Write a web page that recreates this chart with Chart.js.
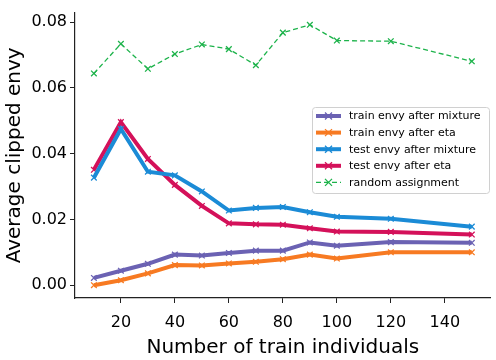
<!DOCTYPE html>
<html lang="en">
  <head>
    <meta charset="UTF-8" />
    <title>Average clipped envy</title>
    <script src="https://cdn.jsdelivr.net/npm/chart.js"></script>
    <style>
      body { margin: 0; background: #fff; }
      #wrap { width: 496px; height: 360px; }
    </style>
  </head>
  <body>
    <div id="wrap"><canvas id="myChart"></canvas></div>
    <script>
      // number of train individuals
      const trainSizes = [10, 20, 30, 40, 50, 60, 70, 80, 90, 100, 120, 150];

      const trainEnvyMixture = [0.0022, 0.0044, 0.0065, 0.0093, 0.0090, 0.0098, 0.0105, 0.0105, 0.0130, 0.0120, 0.0131, 0.0129];
      const trainEnvyEta = [0.0000, 0.0015, 0.0036, 0.0061, 0.0060, 0.0066, 0.0071, 0.0079, 0.0093, 0.0081, 0.0100, 0.0100];
      const testEnvyMixture = [0.0327, 0.0475, 0.0345, 0.0334, 0.0285, 0.0227, 0.0235, 0.0238, 0.0222, 0.0208, 0.0202, 0.0178];
      const testEnvyEta = [0.0351, 0.0496, 0.0384, 0.0305, 0.0241, 0.0188, 0.0185, 0.0184, 0.0173, 0.0163, 0.0162, 0.0154];
      const randomAssignment = [0.0644, 0.0734, 0.0658, 0.0703, 0.0732, 0.0718, 0.0669, 0.0768, 0.0792, 0.0744, 0.0742, 0.0681];

      const xTicks = [20, 40, 60, 80, 100, 120, 140];
      const yTicks = [0, 0.02, 0.04, 0.06, 0.08];

      const FONT = "'DejaVu Sans', sans-serif";

      const toPoints = (ys) => ys.map((y, i) => ({ x: trainSizes[i], y: y }));

      const series = (label, ys, color, thick) => ({
        label: label,
        data: toPoints(ys),
        borderColor: color,
        backgroundColor: color,
        borderWidth: thick ? 4 : 1.3,
        borderDash: thick ? [] : [5, 3],
        pointStyle: 'crossRot',
        pointRadius: 4,
        pointBorderWidth: 1.3,
        pointHoverRadius: 4,
        tension: 0,
        fill: false,
      });

      // matplotlib style legend inside the axes
      const boxLegend = {
        id: 'boxLegend',
        afterDraw(chart) {
          const c = chart.ctx;
          const x0 = 312, y0 = 107, w = 177, h = 86;
          c.save();
          c.fillStyle = 'rgba(255,255,255,0.8)';
          c.strokeStyle = '#d0d0d0';
          c.lineWidth = 1;
          c.beginPath();
          c.roundRect(x0 + 0.5, y0 + 0.5, w, h, 3);
          c.fill();
          c.stroke();
          c.font = '11px ' + FONT;
          c.textBaseline = 'middle';
          chart.data.datasets.forEach((ds, i) => {
            const y = y0 + 9 + i * 16.6;
            c.strokeStyle = ds.borderColor;
            c.lineWidth = ds.borderWidth;
            c.setLineDash(ds.borderDash);
            c.beginPath();
            c.moveTo(316, y);
            c.lineTo(341, y);
            c.stroke();
            c.setLineDash([]);
            c.lineWidth = 1.3;
            c.beginPath();
            c.moveTo(325, y - 3.5); c.lineTo(332, y + 3.5);
            c.moveTo(325, y + 3.5); c.lineTo(332, y - 3.5);
            c.stroke();
            c.fillStyle = '#000';
            c.fillText(ds.label, 349, y + 0.5);
          });
          c.restore();
        },
      };

      const ctx = document.getElementById('myChart').getContext('2d');
      const myChart = new Chart(ctx, {
        type: 'line',
        plugins: [boxLegend],
        data: {
          datasets: [
            series('train envy after mixture', trainEnvyMixture, '#6b62b3', true),
            series('train envy after eta', trainEnvyEta, '#f77a22', true),
            series('test envy after mixture', testEnvyMixture, '#1b8bd6', true),
            series('test envy after eta', testEnvyEta, '#d4115a', true),
            series('random assignment', randomAssignment, '#1db34b', false),
          ],
        },
        options: {
          responsive: true,
          maintainAspectRatio: false,
          animation: false,
          events: [],
          layout: { padding: { top: 2, right: 3, left: 0, bottom: 0 } },
          plugins: {
            legend: { display: false },
            tooltip: { enabled: false },
          },
          scales: {
            x: {
              type: 'linear',
              min: 3,
              max: 157,
              afterBuildTicks: (scale) => {
                scale.ticks = xTicks.map((v) => ({ value: v }));
              },
              afterFit: (scale) => {
                scale.height = 62;
              },
              ticks: {
                font: { family: FONT, size: 16 },
                color: '#000',
                padding: 10,
                maxRotation: 0,
              },
              grid: {
                drawOnChartArea: false,
                drawTicks: true,
                tickLength: 5,
                color: '#222',
              },
              border: { color: '#222', width: 1.2 },
              title: {
                display: true,
                text: 'Number of train individuals',
                font: { family: FONT, size: 20 },
                color: '#000',
                padding: { top: 3, bottom: 0 },
              },
            },
            y: {
              min: -0.0039,
              max: 0.0829,
              afterBuildTicks: (scale) => {
                scale.ticks = yTicks.map((v) => ({ value: v }));
              },
              afterFit: (scale) => {
                scale.width = 75;
              },
              ticks: {
                font: { family: FONT, size: 16 },
                color: '#000',
                padding: 3,
                callback: (v) => v.toFixed(2),
              },
              grid: {
                drawOnChartArea: false,
                drawTicks: true,
                tickLength: 5,
                color: '#222',
              },
              border: { color: '#222', width: 1.2 },
              title: {
                display: true,
                text: 'Average clipped envy',
                font: { family: FONT, size: 20 },
                color: '#000',
                padding: { top: 3, bottom: 2 },
              },
            },
          },
        },
      });
    </script>
  </body>
</html>
